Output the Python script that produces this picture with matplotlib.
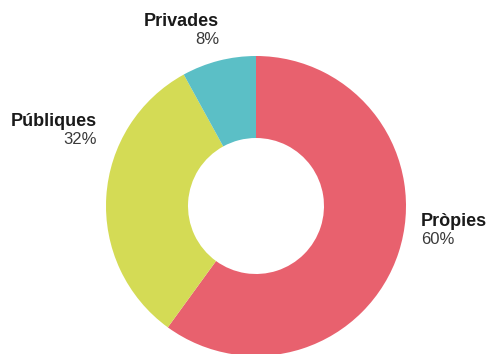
import matplotlib
matplotlib.use("Agg")
import matplotlib.pyplot as plt

labels = ["Pròpies", "Públiques", "Privades"]
values = [60, 32, 8]
colors = ["#E8616E", "#D4DB55", "#5BBFC6"]

plt.rcParams['font.family'] = ['Liberation Sans', 'DejaVu Sans']

fig = plt.figure(figsize=(4.89, 3.54), dpi=100)
ax = fig.add_axes([0, 0, 1, 1])

cx, cy = 256, 354 - 206
R = 150
ax.pie(values, colors=colors, startangle=90, counterclock=False,
       center=(cx, cy), radius=R, frame=True,
       wedgeprops=dict(width=R - 68, linewidth=0))
ax.set_xlim(0, 489)
ax.set_ylim(0, 354)
ax.set_aspect('equal')
ax.axis('off')

# label positions (px from top-left): name, pct, alignment
pos = {
    "Pròpies": (421, 221, 'left'),
    "Públiques": (97, 122, 'right'),
    "Privades": (219, 22, 'right'),
}
for lab, v in zip(labels, values):
    x, y, ha = pos[lab]
    ax.text(x, 354 - y, lab, ha=ha, va='center', fontsize=13,
            fontweight='bold', color='#1a1a1a')
    ax.text(x, 354 - y - 18, f"{v}%", ha=ha, va='center', fontsize=12,
            color='#3a3a3a')

fig.savefig("out.png", dpi=100)
